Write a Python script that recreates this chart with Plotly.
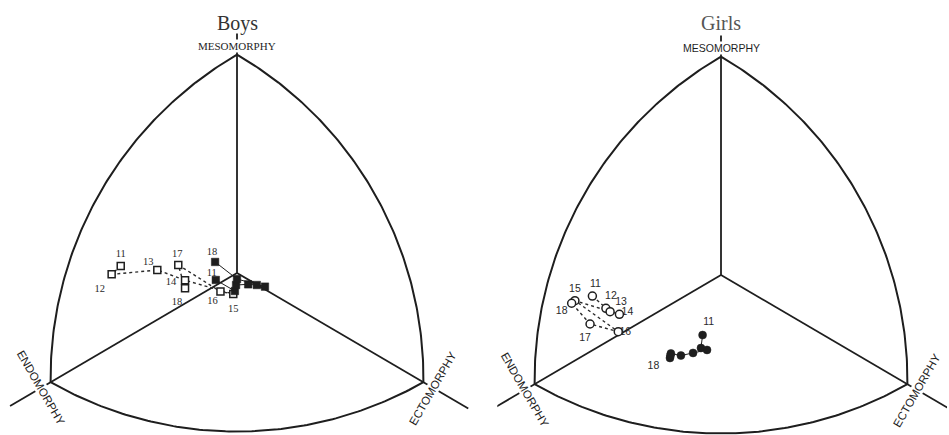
import numpy as np
import plotly.graph_objects as go

# ---------------- data (somatochart X = ecto - endo, Y = 2*meso - (endo+ecto)) ----------------
ages = ["11", "12", "13", "14", "15", "16", "17", "18"]

boys_open_x = [-4.99, -5.38, -3.42, -2.23, -0.16, -0.71, -2.52, -2.23]
boys_open_y = [0.51, -0.10, 0.22, -0.53, -1.54, -1.36, 0.59, -1.12]

boys_filled_x = [-0.91, -0.09, -0.04, 0.48, 0.85, 1.20, 0.00, -0.94]
boys_filled_y = [-0.51, -1.32, -0.88, -0.83, -0.88, -1.00, -0.44, 0.81]

girls_open_x = [-5.52, -4.94, -4.76, -4.36, -6.27, -4.41, -5.62, -6.41]
girls_open_y = [-1.54, -2.44, -2.69, -2.88, -1.88, -4.15, -3.59, -2.07]

girls_filled_x = [-0.79, -0.86, -0.60, -1.20, -1.72, -2.15, -2.19, -2.17]
girls_filled_y = [-4.40, -5.35, -5.49, -5.71, -5.90, -5.75, -6.08, -5.90]

# labels shown on the chart (age labels), per series
boys_open_labels = ages
boys_filled_labels = ["11", "", "", "", "", "", "", "18"]
girls_open_labels = ages
girls_filled_labels = ["11", "", "", "", "", "", "", "18"]

# somatochart frame: pure-component vertices
vert_endo = (-8.0, -8.0)
vert_meso = (0.0, 16.0)
vert_ecto = (8.0, -8.0)

# ---------------- layout constants ----------------
W, H = 949, 435
A = 23.3     # px per X unit
B = 13.65    # px per Y unit
INK = "#1e1e1e"

panels = [
    dict(name="Boys", cx=237, cy=273, xr=[-10.0, 10.0], yr=[-11.8, 19.9],
         xa="x", ya="y", num_font="Liberation Serif", meso_font="Liberation Serif",
         title_color="#333333"),
    dict(name="Girls", cx=721, cy=275, xr=[-9.6, 9.7], yr=[-11.7, 20.0],
         xa="x2", ya="y2", num_font="Liberation Sans", meso_font="Liberation Sans",
         title_color="#555555"),
]

# label offsets in px (dx right, dy down)
boys_open_off = [(0, -12), (-12, 15), (-9, -8), (-14, 2), (0, 15), (-8, 10), (-1, -11), (-8, 14)]
boys_filled_off = [(-4, -7), (0, 0), (0, 0), (0, 0), (0, 0), (0, 0), (0, 0), (-3, -10)]
girls_open_off = [(3, -12), (5, -12), (11, -9), (8, -2), (0, -11), (7, 1), (-5, 14), (-10, 8)]
girls_filled_off = [(6, -13), (0, 0), (0, 0), (0, 0), (0, 0), (0, 0), (0, 0), (-17, 11)]

fig = go.Figure()


def to_px(p):
    return np.array([p[0] * A, p[1] * B])


def to_data(u):
    return (u[0] / A, u[1] / B)


def arc(p, q, c, n=120):
    P, Q, C = to_px(p), to_px(q), to_px(c)
    t1 = np.arctan2(*(P - C)[::-1])
    t2 = np.arctan2(*(Q - C)[::-1])
    d = (t2 - t1 + np.pi) % (2 * np.pi) - np.pi
    t = np.linspace(0, 1, n)
    r = np.linalg.norm(P - C) * (1 - t) + np.linalg.norm(Q - C) * t
    ang = t1 + d * t
    xs = (C[0] + r * np.cos(ang)) / A
    ys = (C[1] + r * np.sin(ang)) / B
    return xs, ys


def offs(xs, ys, off):
    return ([x + o[0] / A for x, o in zip(xs, off)],
            [y - o[1] / B for y, o in zip(ys, off)])


series = {
    "Boys": [
        (boys_open_x, boys_open_y, boys_open_labels, boys_open_off, "open"),
        (boys_filled_x, boys_filled_y, boys_filled_labels, boys_filled_off, "filled"),
    ],
    "Girls": [
        (girls_open_x, girls_open_y, girls_open_labels, girls_open_off, "open"),
        (girls_filled_x, girls_filled_y, girls_filled_labels, girls_filled_off, "filled"),
    ],
}

annotations = []
for pn in panels:
    xa, ya = pn["xa"], pn["ya"]
    # frame arcs (Reuleaux)
    for p, q, c in [(vert_endo, vert_meso, vert_ecto),
                    (vert_meso, vert_ecto, vert_endo),
                    (vert_endo, vert_ecto, vert_meso)]:
        xs, ys = arc(p, q, c)
        fig.add_trace(go.Scatter(x=xs, y=ys, mode="lines", xaxis=xa, yaxis=ya,
                                 line=dict(color=INK, width=2), hoverinfo="skip"))
    # spokes and outward extensions
    for v, ext in [(vert_endo, 47), (vert_ecto, 52), (vert_meso, 21)]:
        V = to_px(v)
        u = V / np.linalg.norm(V)
        E = V + u * ext
        xe, ye = to_data(E)
        fig.add_trace(go.Scatter(x=[0, v[0], xe], y=[0, v[1], ye], mode="lines",
                                 xaxis=xa, yaxis=ya, line=dict(color=INK, width=1.8),
                                 hoverinfo="skip"))
    # axis-name labels
    for v, txt, ang, dist, fnt, size in [
        (vert_endo, "ENDOMORPHY", 60, 11, "Liberation Sans", 11.5),
        (vert_ecto, "ECTOMORPHY", -60, 11, "Liberation Sans", 11.5),
        (vert_meso, "MESOMORPHY", 0, 9, pn["meso_font"], 11 if pn["name"] == "Boys" else 10.5),
    ]:
        V = to_px(v)
        u = V / np.linalg.norm(V)
        lx, ly = to_data(V + u * dist)
        annotations.append(dict(x=lx, y=ly, xref=xa, yref=ya, text=txt, showarrow=False,
                                textangle=ang, bgcolor="white", borderpad=0,
                                font=dict(family=fnt, size=size, color=INK),
                                xanchor="center", yanchor="middle"))
    # title
    tx, ty = 0, (pn["cy"] - 23) / B
    annotations.append(dict(x=tx, y=ty, xref=xa, yref=ya, text=pn["name"], showarrow=False,
                            font=dict(family="Liberation Serif", size=20, color=pn["title_color"]),
                            xanchor="center", yanchor="middle"))

    # data series: labels first so the white-filled markers sit over them
    for xs, ys, labels, off, kind in series[pn["name"]]:
        lx, ly = offs(xs, ys, off)
        fig.add_trace(go.Scatter(x=lx, y=ly, text=labels, mode="text", xaxis=xa, yaxis=ya,
                                 textfont=dict(family=pn["num_font"], size=10.5, color="#2a2a2a"),
                                 cliponaxis=False, hoverinfo="skip"))
    for xs, ys, labels, off, kind in series[pn["name"]]:
        sym = "square" if pn["name"] == "Boys" else "circle"
        if kind == "open":
            line = dict(color="#2a2a2a", width=1.4, dash="dot")
            marker = dict(symbol=sym, size=7 if sym == "square" else 8, color="white",
                          line=dict(color=INK, width=1.5))
        else:
            line = dict(color=INK, width=1)
            marker = dict(symbol=sym, size=8 if sym == "circle" else 7.5, color=INK,
                          line=dict(color=INK, width=0.5))
        fig.add_trace(go.Scatter(x=xs, y=ys, mode="lines+markers", xaxis=xa, yaxis=ya,
                                 line=line, marker=marker, cliponaxis=False,
                                 hovertext=labels, name=pn["name"] + " " + kind))


def xdom(pn):
    return [(pn["cx"] + pn["xr"][0] * A) / W, (pn["cx"] + pn["xr"][1] * A) / W]


def ydom(pn):
    return [(H - (pn["cy"] - pn["yr"][0] * B)) / H, (H - (pn["cy"] - pn["yr"][1] * B)) / H]


ax_common = dict(visible=False, showgrid=False, zeroline=False, fixedrange=True)
fig.update_layout(
    width=W, height=H, margin=dict(l=0, r=0, t=0, b=0),
    paper_bgcolor="white", plot_bgcolor="white", showlegend=False,
    xaxis=dict(domain=xdom(panels[0]), range=panels[0]["xr"], anchor="y", **ax_common),
    yaxis=dict(domain=ydom(panels[0]), range=panels[0]["yr"], anchor="x", **ax_common),
    xaxis2=dict(domain=xdom(panels[1]), range=panels[1]["xr"], anchor="y2", **ax_common),
    yaxis2=dict(domain=ydom(panels[1]), range=panels[1]["yr"], anchor="x2", **ax_common),
    annotations=annotations,
)

fig.write_html("out.html", config={"displayModeBar": False},
               post_script="document.body.style.margin='0';document.body.style.overflow='hidden';")
